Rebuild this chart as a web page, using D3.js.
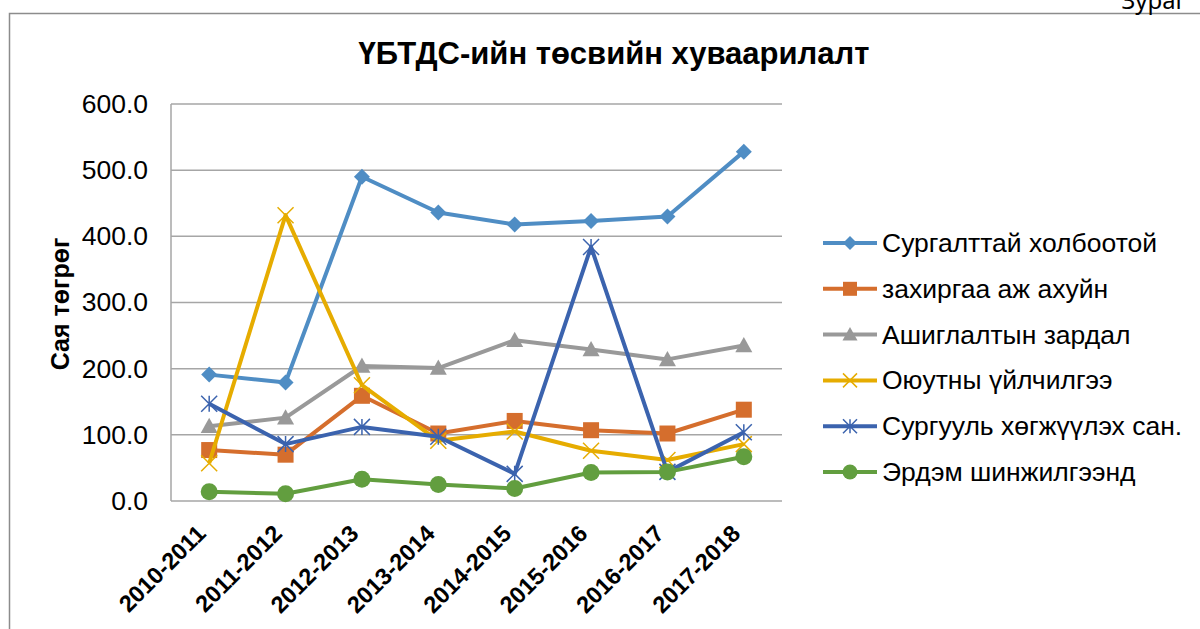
<!DOCTYPE html>
<html>
<head>
<meta charset="utf-8">
<script src="https://cdn.jsdelivr.net/npm/d3@7"></script>
<style>
  body { margin: 0; background: #fff; }
  svg { display: block; font-family: "Liberation Sans", Arial, sans-serif; }
</style>
</head>
<body>
<svg id="chart" width="1200" height="629"></svg>
<script>
// years on the x axis
var categories = ["2010-2011", "2011-2012", "2012-2013", "2013-2014", "2014-2015", "2015-2016", "2016-2017", "2017-2018"];
var yTicks = [0, 100, 200, 300, 400, 500, 600];

// series values (сая төгрөг)
var surgalt = [191, 179, 490, 436, 418, 423, 430, 528];
var zahirgaa = [77, 70, 159, 102, 121, 107, 102, 138];
var ashiglalt = [113, 126, 204, 201, 243, 229, 214, 235];
var oyutan = [57, 432, 175, 91, 105, 76, 62, 86];
var surguuli = [147, 86, 112, 97, 41, 384, 44, 104];
var erdem = [14, 11, 33, 25, 19, 43, 44, 67];

var seriesNames = ["Сургалттай холбоотой", "захиргаа аж ахуйн", "Ашиглалтын зардал", "Оюутны үйлчилгээ", "Сургууль хөгжүүлэх сан.", "Эрдэм шинжилгээнд"];
var seriesData = [surgalt, zahirgaa, ashiglalt, oyutan, surguuli, erdem];
var colors = ["#4f8dc4", "#d56e2d", "#999999", "#e6ac00", "#3b63ae", "#629e3f"];
var markers = ["diamond", "square", "triangle", "x", "star", "circle"];

var svg = d3.select("#chart");

var margin = {left: 171, top: 104, right: 418, bottom: 128},
    width = 1200 - margin.left - margin.right,
    height = 629 - margin.top - margin.bottom;

// outer frame (only top and left visible)
svg.append("path")
  .attr("d", "M9.5,629 L9.5,13.5 L1200,13.5")
  .style("fill", "none")
  .style("stroke", "#8c8c8c")
  .style("stroke-width", 1.5);

svg.append("text")
  .attr("x", 1186)
  .attr("y", 9)
  .attr("text-anchor", "end")
  .style("font-family", "Noto Sans")
  .style("font-size", "24px")
  .text("Зураг");

// title
svg.append("text")
  .attr("x", 614)
  .attr("y", 64)
  .attr("text-anchor", "middle")
  .style("font-size", "31px")
  .style("font-weight", "bold")
  .text("ҮБТДС-ийн төсвийн хуваарилалт");

var x = d3.scaleBand()
  .domain(categories)
  .range([0, width]);

var y = d3.scaleLinear()
  .domain([0, 600])
  .range([height, 0]);

var g = svg.append("g")
  .attr("transform", "translate(" + margin.left + "," + margin.top + ")");

// gridlines
g.append("g")
  .selectAll("line")
  .data(yTicks)
  .enter()
  .append("line")
  .attr("x1", 0)
  .attr("x2", width)
  .attr("y1", function(d) { return y(d); })
  .attr("y2", function(d) { return y(d); })
  .style("stroke", "#a6a6a6")
  .style("stroke-width", 1.5);

g.append("line")
  .attr("x1", 0).attr("x2", 0)
  .attr("y1", 0).attr("y2", height)
  .style("stroke", "#a6a6a6")
  .style("stroke-width", 1.5);

// y axis
var yAxis = g.append("g")
  .call(d3.axisLeft(y).tickValues(yTicks).tickSize(0).tickPadding(23).tickFormat(d3.format(".1f")));
yAxis.select(".domain").remove();
yAxis.selectAll("text")
  .style("font-family", "Liberation Sans")
  .style("font-size", "26.5px")
  .style("fill", "#000");

svg.append("text")
  .attr("text-anchor", "middle")
  .attr("transform", "translate(69,304)rotate(-90)")
  .style("font-size", "25px")
  .style("font-weight", "bold")
  .text("Сая төгрөг");

// x labels
var xAxis = g.append("g")
  .attr("transform", "translate(0," + height + ")")
  .call(d3.axisBottom(x).tickSize(0).tickPadding(0));
xAxis.select(".domain").remove();
xAxis.selectAll("text")
  .attr("text-anchor", "end")
  .attr("dy", 0)
  .attr("transform", "translate(-2,34)rotate(-45)")
  .style("font-family", "Liberation Sans")
  .style("font-size", "23.5px")
  .style("font-weight", "bold")
  .style("fill", "#000");

function drawMarker(sel, type, color, size) {
  var s = size / 2;
  if (type == "diamond") {
    sel.append("path").attr("d", "M0," + (-s) + "L" + s + ",0L0," + s + "L" + (-s) + ",0Z").style("fill", color);
  } else if (type == "square") {
    sel.append("rect").attr("x", -s).attr("y", -s).attr("width", size).attr("height", size).style("fill", color);
  } else if (type == "triangle") {
    sel.append("path").attr("d", "M0," + (-s) + "L" + s + "," + (s * 0.8) + "L" + (-s) + "," + (s * 0.8) + "Z").style("fill", color);
  } else if (type == "circle") {
    sel.append("circle").attr("r", s).style("fill", color);
  } else if (type == "x") {
    sel.append("path").attr("d", "M" + (-s) + "," + (-s) + "L" + s + "," + s + "M" + s + "," + (-s) + "L" + (-s) + "," + s)
      .style("stroke", color).style("stroke-width", 1.5).style("fill", "none");
  } else if (type == "star") {
    sel.append("path").attr("d", "M" + (-s) + "," + (-s) + "L" + s + "," + s + "M" + s + "," + (-s) + "L" + (-s) + "," + s + "M0," + (-s) + "L0," + s)
      .style("stroke", color).style("stroke-width", 1.5).style("fill", "none");
  }
}

var markerSize = [16, 16, 17, 16, 16, 17];

var line = d3.line()
  .x(function(d, i) { return x(categories[i]) + x.bandwidth() / 2; })
  .y(function(d) { return y(d); });

seriesData.forEach(function(data, k) {
  g.append("path")
    .datum(data)
    .attr("d", line)
    .style("fill", "none")
    .style("stroke", colors[k])
    .style("stroke-width", 4)
    .style("stroke-linejoin", "round");

  data.forEach(function(v, i) {
    var m = g.append("g")
      .attr("transform", "translate(" + (x(categories[i]) + x.bandwidth() / 2) + "," + y(v) + ")");
    drawMarker(m, markers[k], colors[k], markerSize[k]);
  });
});

// legend
var legend = svg.append("g").attr("transform", "translate(823,243)");
seriesNames.forEach(function(name, k) {
  var row = legend.append("g").attr("transform", "translate(0," + (k * 45.8) + ")");
  row.append("line")
    .attr("x1", 0).attr("x2", 54)
    .style("stroke", colors[k])
    .style("stroke-width", 4);
  var m = row.append("g").attr("transform", "translate(27,0)");
  drawMarker(m, markers[k], colors[k], markerSize[k] - 2);
  row.append("text")
    .attr("x", 59)
    .attr("y", 9)
    .style("font-size", "26.5px")
    .text(name);
});
</script>
</body>
</html>
